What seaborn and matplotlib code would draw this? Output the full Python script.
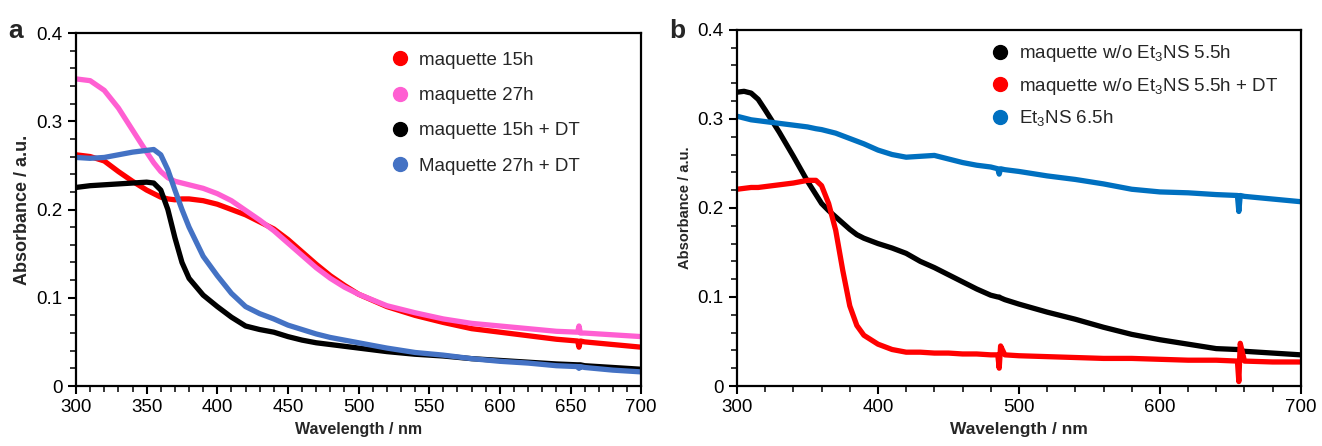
import matplotlib
matplotlib.use('Agg')
import matplotlib.pyplot as plt
import seaborn as sns
from matplotlib.lines import Line2D
from matplotlib.ticker import MultipleLocator

# panel a - wavelength / absorbance
wl_a = [300, 310, 320, 330, 340, 350, 355, 360, 365, 370, 375, 380, 390, 400, 410, 420,
        430, 440, 450, 460, 470, 480, 490, 500, 520, 540, 560, 580, 600, 620, 640, 655,
        656, 657, 660, 680, 700]
m15 = [0.262, 0.260, 0.255, 0.243, 0.232, 0.222, 0.218, 0.214, 0.212, 0.211, 0.212, 0.212,
       0.210, 0.206, 0.200, 0.194, 0.186, 0.178, 0.166, 0.152, 0.138, 0.125, 0.114, 0.104,
       0.090, 0.080, 0.072, 0.065, 0.061, 0.057, 0.053, 0.051, 0.044, 0.051, 0.050, 0.047,
       0.044]
m27 = [0.348, 0.346, 0.335, 0.315, 0.290, 0.265, 0.253, 0.243, 0.236, 0.232, 0.230, 0.228,
       0.224, 0.218, 0.210, 0.199, 0.188, 0.176, 0.162, 0.148, 0.134, 0.122, 0.112, 0.104,
       0.091, 0.083, 0.076, 0.071, 0.068, 0.065, 0.062, 0.061, 0.068, 0.060, 0.060, 0.058,
       0.056]
m15_dt = [0.225, 0.227, 0.228, 0.229, 0.230, 0.231, 0.230, 0.222, 0.200, 0.168, 0.140, 0.122,
          0.103, 0.090, 0.078, 0.068, 0.064, 0.061, 0.056, 0.052, 0.049, 0.047, 0.045, 0.043,
          0.039, 0.036, 0.034, 0.031, 0.029, 0.027, 0.025, 0.024, 0.024, 0.024, 0.023, 0.021,
          0.019]
m27_dt = [0.259, 0.258, 0.259, 0.262, 0.265, 0.267, 0.268, 0.262, 0.245, 0.222, 0.200, 0.180,
          0.147, 0.125, 0.105, 0.090, 0.082, 0.076, 0.069, 0.064, 0.059, 0.055, 0.052, 0.049,
          0.043, 0.038, 0.035, 0.031, 0.028, 0.026, 0.023, 0.022, 0.020, 0.022, 0.021, 0.018,
          0.016]
labels_a = ['maquette 15h', 'maquette 27h', 'maquette 15h + DT', 'Maquette 27h + DT']
colors_a = ['#ff0000', '#ff5fd2', '#000000', '#4472c4']

# panel b
wl_b = [300, 305, 310, 315, 320, 330, 340, 350, 356, 360, 365, 370, 375, 380, 385, 390,
        400, 410, 420, 430, 440, 450, 460, 470, 480, 485, 486, 487, 490, 500, 520, 540,
        560, 580, 600, 620, 640, 655, 656, 657, 660, 680, 700]
wo = [0.330, 0.331, 0.329, 0.322, 0.310, 0.285, 0.258, 0.230, 0.215, 0.205, 0.197, 0.190,
      0.183, 0.176, 0.170, 0.166, 0.160, 0.155, 0.149, 0.140, 0.133, 0.125, 0.117, 0.109,
      0.102, 0.100, 0.100, 0.099, 0.097, 0.092, 0.083, 0.075, 0.066, 0.058, 0.052, 0.047,
      0.042, 0.041, 0.041, 0.040, 0.039, 0.037, 0.035]
wo_dt = [0.221, 0.222, 0.223, 0.223, 0.224, 0.226, 0.228, 0.231, 0.231, 0.225, 0.205, 0.175,
         0.130, 0.090, 0.068, 0.057, 0.047, 0.041, 0.038, 0.038, 0.037, 0.037, 0.036, 0.036,
         0.035, 0.035, 0.020, 0.045, 0.035, 0.034, 0.033, 0.032, 0.031, 0.031, 0.030, 0.029,
         0.029, 0.028, 0.005, 0.048, 0.028, 0.027, 0.027]
et3ns = [0.303, 0.301, 0.299, 0.298, 0.297, 0.295, 0.293, 0.291, 0.289, 0.288, 0.286, 0.284,
         0.281, 0.278, 0.275, 0.272, 0.265, 0.260, 0.257, 0.258, 0.259, 0.255, 0.251, 0.248,
         0.246, 0.244, 0.238, 0.244, 0.243, 0.241, 0.236, 0.232, 0.227, 0.221, 0.218, 0.217,
         0.215, 0.214, 0.196, 0.214, 0.213, 0.210, 0.207]
labels_b = ['maquette w/o Et$_3$NS 5.5h', 'maquette w/o Et$_3$NS 5.5h + DT', 'Et$_3$NS 6.5h']
colors_b = ['#000000', '#ff0000', '#0070c0']

sns.set_style('ticks')
plt.rcParams['font.family'] = ['Liberation Sans', 'DejaVu Sans']
plt.rcParams['mathtext.default'] = 'regular'

fig = plt.figure(figsize=(13.22, 4.46), dpi=100)
ax_a = fig.add_axes([0.0575, 0.1345, 0.4275, 0.7915])
ax_b = fig.add_axes([0.5575, 0.1345, 0.4265, 0.7985])

for ys, lab, col in zip([m15, m27, m15_dt, m27_dt], labels_a, colors_a):
    sns.lineplot(x=wl_a, y=ys, color=col, lw=3.8, ax=ax_a)
for ys, lab, col in zip([wo, wo_dt, et3ns], labels_b, colors_b):
    sns.lineplot(x=wl_b, y=ys, color=col, lw=3.8, ax=ax_b)

for ax, step in [(ax_a, 50), (ax_b, 100)]:
    ax.set_xlim(300, 700)
    ax.set_ylim(0, 0.4)
    ax.xaxis.set_major_locator(MultipleLocator(step))
    ax.xaxis.set_minor_locator(MultipleLocator(10 if step == 50 else 20))
    ax.yaxis.set_minor_locator(MultipleLocator(0.02))
    ax.set_yticks([0, 0.1, 0.2, 0.3, 0.4])
    ax.set_yticklabels(['0', '0.1', '0.2', '0.3', '0.4'])
    for s in ax.spines.values():
        s.set_visible(True)
        s.set_linewidth(1.6)
        s.set_color('black')
    ax.tick_params(which='major', length=6, width=1.5, labelsize=13.5, colors='black')
    ax.tick_params(which='minor', length=4, width=1.3)

ax_a.set_xlabel('Wavelength / nm', fontsize=11.5, fontweight='bold')
ax_b.set_xlabel('Wavelength / nm', fontsize=12.5, fontweight='bold')
ax_a.set_ylabel('Absorbance / a.u.', fontsize=13, fontweight='bold')
ax_b.set_ylabel('Absorbance / a.u.', fontsize=10.5, fontweight='bold')

h_a = [Line2D([], [], ls='', marker='o', ms=10, color=c) for c in colors_a]
ax_a.legend(h_a, labels_a, loc='upper left', bbox_to_anchor=(0.527, 0.995), frameon=False,
            fontsize=13.5, labelspacing=0.97, handletextpad=0.5, handlelength=1.0)
h_b = [Line2D([], [], ls='', marker='o', ms=10, color=c) for c in colors_b]
ax_b.legend(h_b, labels_b, loc='upper left', bbox_to_anchor=(0.42, 1.01), frameon=False,
            fontsize=13.5, labelspacing=0.62, handletextpad=0.5, handlelength=1.0)

fig.text(0.006, 0.915, 'a', fontsize=19, fontweight='bold')
fig.text(0.506, 0.915, 'b', fontsize=19, fontweight='bold')

fig.savefig('out.png', dpi=100)
